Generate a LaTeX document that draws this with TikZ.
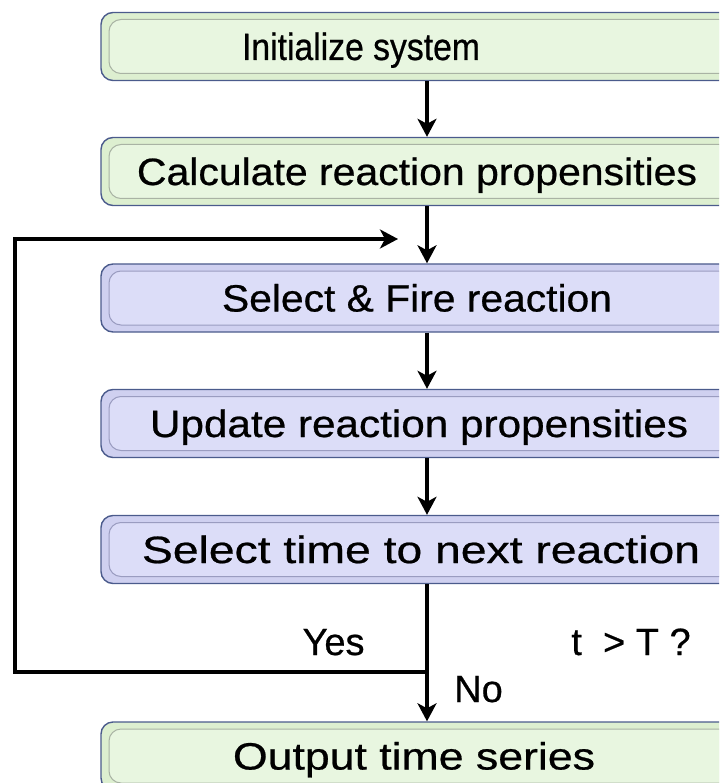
\documentclass[tikz,border=0pt]{standalone}
\usepackage{fontspec}
\setmainfont{Liberation Sans}
\newfontfamily\heavyfont{Liberation Sans}[FakeBold=0.6]
\usetikzlibrary{arrows.meta}
\definecolor{boxedge}{HTML}{4B5B8C}
\definecolor{gfill}{HTML}{DDEFD0}
\definecolor{ginner}{HTML}{E8F6E0}
\definecolor{gline}{HTML}{A9B3A4}
\definecolor{bfill}{HTML}{CFD0F0}
\definecolor{binner}{HTML}{DCDDF8}
\definecolor{bline}{HTML}{9A9CC0}
\newcommand{\boxtxt}[2]{\heavyfont\fontsize{38}{44}\selectfont\resizebox{#1}{\height}{#2}}
\tikzset{
  stagebox/.style={draw=boxedge, line width=1.4pt, rounded corners=12pt,
    minimum width=660pt, minimum height=68pt, inner sep=0pt},
  gbox/.style={stagebox, fill=gfill,
    path picture={\fill[ginner, draw=gline, line width=1pt]
      ([shift={(8pt,-7pt)}]path picture bounding box.north west) rectangle
      ([shift={(-8pt,7pt)}]path picture bounding box.south east);}},
  bbox/.style={stagebox, fill=bfill,
    path picture={\fill[binner, draw=bline, line width=1pt]
      ([shift={(8pt,-7pt)}]path picture bounding box.north west) rectangle
      ([shift={(-8pt,7pt)}]path picture bounding box.south east);}},
  boxlabel/.style={anchor=base, inner sep=0pt, text=black},
  plainlabel/.style={anchor=base, inner sep=0pt, text=black, font=\heavyfont\fontsize{38}{44}\selectfont},
  flow/.style={line width=3.2pt, -{Stealth[length=18pt, width=19pt, inset=5pt]}},
  wire/.style={line width=3.2pt}
}
\begin{document}
\begin{tikzpicture}[x=1pt, y=-1pt]
\useasboundingbox (0,0) rectangle (719,783);
\clip (0,0) rectangle (719,783);
% boxes
\node[gbox] (b1) at (431,46.5) {};
\node[gbox] (b2) at (431,171.5) {};
\node[bbox] (b3) at (431,298) {};
\node[bbox] (b4) at (431,423.5) {};
\node[bbox] (b5) at (431,549.5) {};
\node[gbox] (b6) at (431,756) {};
% box texts
\node[boxlabel] (t1) at (361,60) {\boxtxt{238pt}{Initialize system}};
\node[boxlabel] (t2) at (417,185) {\boxtxt{560pt}{Calculate reaction propensities}};
\node[boxlabel] (t3) at (417,311.5) {\boxtxt{390pt}{Select \& Fire reaction}};
\node[boxlabel] (t4) at (419,437) {\boxtxt{538pt}{Update reaction propensities}};
\node[boxlabel] (t5) at (421,563) {\boxtxt{558pt}{Select time to next reaction}};
\node[boxlabel] (t6) at (414,769.5) {\boxtxt{362pt}{Output time series}};
% helper coordinates
\coordinate (ax) at (427,0);
\coordinate (loopL) at (15,0);
\coordinate (ytop) at (0,239);
\coordinate (ybot) at (0,672);
\coordinate (tipR) at (398,239);
% connectors
\draw[flow] (b1.south -| ax) -- (b2.north -| ax);
\draw[flow] (b2.south -| ax) -- (b3.north -| ax);
\draw[flow] (b3.south -| ax) -- (b4.north -| ax);
\draw[flow] (b4.south -| ax) -- (b5.north -| ax);
\draw[flow] (b5.south -| ax) -- (b6.north -| ax);
\draw[wire, -{Stealth[length=18pt, width=19pt, inset=5pt]}]
  (ybot -| ax) -- (ybot -| loopL) -- (ytop -| loopL) -- (tipR);
% labels
\node[plainlabel] (yes) at (333.5,655) {Yes};
\node[plainlabel] (cond) at (631,655) {t\ \ > T ?};
\node[plainlabel] (no) at (478.5,702) {No};
\end{tikzpicture}
\end{document}
